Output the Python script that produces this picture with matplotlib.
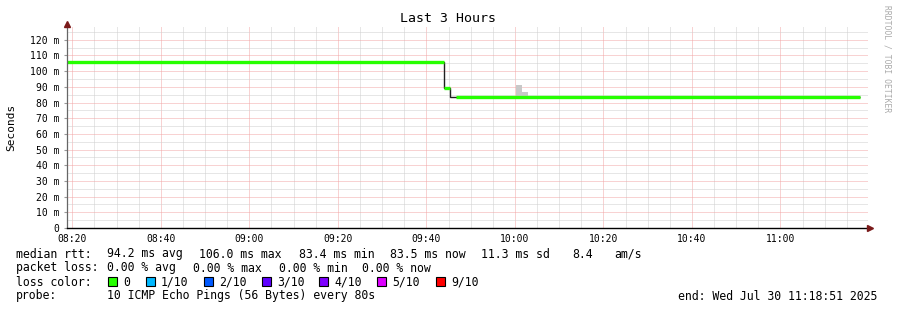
import matplotlib
matplotlib.use("Agg")
import matplotlib.pyplot as plt
import matplotlib.dates as mdates
from matplotlib.patches import Rectangle
from matplotlib.ticker import MultipleLocator, FixedLocator
import numpy as np

# median rtt (ms), step segments
day = "2025-07-30T"
median_edges = ["08:18:51", "09:44:00", "09:45:20", "09:46:40", "11:18:00"]
median_values = [106.0, 89.0, 83.6, 83.5]
median_loss = [0, 0, -1, 0]  # -1 = no loss info (drawn black only)

# smoke (ping spread) that shows above the median line
smoke_start = ["08:44:10", "08:49:20", "10:00:20", "10:01:40"]
smoke_end = ["08:45:30", "08:50:40", "10:01:40", "10:03:00"]
smoke_low = [106.0, 106.0, 83.6, 83.6]
smoke_high = [106.8, 106.8, 91.2, 87.0]

y_ticks = [0, 10, 20, 30, 40, 50, 60, 70, 80, 90, 100, 110, 120]

loss_labels = ["0", "1/10", "2/10", "3/10", "4/10", "5/10", "9/10"]
loss_colors = ["#26ff00", "#00b8ff", "#0059ff", "#5e00ff", "#7e00ff", "#dd00ff", "#ff0000"]

rtt_items = ["94.2 ms avg", "106.0 ms max", "83.4 ms min", "83.5 ms now", "11.3 ms sd", "8.4", "am/s"]
loss_items = ["0.00 % avg", "0.00 % max", "0.00 % min", "0.00 % now"]


def ts(s):
    return np.datetime64(day + s)


W, H = 897, 310
plt.rcParams["font.family"] = ["DejaVu Sans Mono"]
fig = plt.figure(figsize=(W / 100, H / 100), dpi=100)
fig.patch.set_facecolor("white")

# plot area in pixels: x 67..868, y 26..228
ax = fig.add_axes([67 / W, 1 - 228 / H, (868 - 67) / W, (228 - 26) / H])
ax.set_facecolor("white")

edges = np.array([ts(s) for s in median_edges])
vals = np.array(median_values)
ax.stairs(vals, edges, baseline=None, color="#202020", lw=1.0, zorder=3)
for i, v in enumerate(vals):
    if median_loss[i] >= 0:
        ax.hlines(v, edges[i], edges[i + 1], color=loss_colors[median_loss[i]],
                  lw=2.4, zorder=4)

for s, e, lo, hi in zip(smoke_start, smoke_end, smoke_low, smoke_high):
    ax.fill_between([ts(s), ts(e)], [lo, lo], [hi, hi], color="#c8c8c8",
                    lw=0, zorder=2)

ax.set_xlim(ts("08:18:48"), ts("11:19:47"))
ax.set_ylim(0, 128.8)

ax.xaxis.set_major_locator(mdates.MinuteLocator(byminute=[0, 20, 40]))
ax.xaxis.set_minor_locator(mdates.MinuteLocator(byminute=range(0, 60, 5)))
ax.xaxis.set_major_formatter(mdates.DateFormatter("%H:%M"))
ax.yaxis.set_major_locator(FixedLocator(y_ticks))
ax.yaxis.set_minor_locator(MultipleLocator(5))
ax.set_yticklabels([f"{v} m" if v else "0" for v in y_ticks])

ax.set_axisbelow(True)
ax.grid(which="major", color="#f2a6a6", ls=(0, (1, 1)), lw=0.72)
ax.grid(which="minor", color="#cfcfcf", ls=(0, (1, 1)), lw=0.72)

ax.tick_params(axis="x", which="both", length=0, pad=4.5, labelsize=7)
ax.tick_params(axis="y", which="major", length=2.2, color="#999999",
               pad=3.5, labelsize=7)
ax.tick_params(axis="y", which="minor", length=0)

for side in ["top", "right"]:
    ax.spines[side].set_visible(False)
ax.spines["left"].set_color("#666666")
ax.spines["left"].set_linewidth(0.9)
ax.spines["bottom"].set_color("black")
ax.spines["bottom"].set_linewidth(1.0)
ax.spines["left"].set_zorder(5)
ax.spines["bottom"].set_zorder(5)

# axis arrows
ax.plot([0], [1.01], marker="^", color="#7a1a1a", ms=4, transform=ax.transAxes,
        clip_on=False, zorder=6)
ax.plot([1.003], [0], marker=">", color="#7a1a1a", ms=4, transform=ax.transAxes,
        clip_on=False, zorder=6)

fig.text(448 / W, 1 - 19 / H, "Last 3 Hours", ha="center", va="center", fontsize=9.5)
fig.text(11 / W, 1 - 127 / H, "Seconds", rotation=90, ha="center", va="center",
         fontsize=8)
fig.text(887 / W, 1 - 5 / H, "RRDTOOL / TOBI OETIKER", rotation=270, ha="center",
         va="top", fontsize=5.8, color="#aaaaaa")

fs = 8.3


def row_text(x, y, s):
    fig.text(x / W, 1 - y / H, s, ha="left", va="center", fontsize=fs)


row_text(16, 254, "median rtt:")
for x, s in zip([107, 199, 299, 390, 481, 572, 614], rtt_items):
    row_text(x, 254, s)

row_text(16, 268, "packet loss:")
for x, s in zip([107, 193, 279, 362], loss_items):
    row_text(x, 268, s)

row_text(16, 282, "loss color:")
for x, lab, col in zip([108, 146, 204, 262, 319, 377, 436], loss_labels, loss_colors):
    fig.patches.append(Rectangle((x / W, 1 - 286 / H), 9 / W, 9 / H,
                                 transform=fig.transFigure, facecolor=col,
                                 edgecolor="black", lw=0.8))
    row_text(x + 15, 282, lab)

row_text(16, 296, "probe:")
row_text(107, 296, "10 ICMP Echo Pings (56 Bytes) every 80s")
row_text(678, 296, "end: Wed Jul 30 11:18:51 2025")

fig.savefig("out.png", dpi=100, facecolor="white")
